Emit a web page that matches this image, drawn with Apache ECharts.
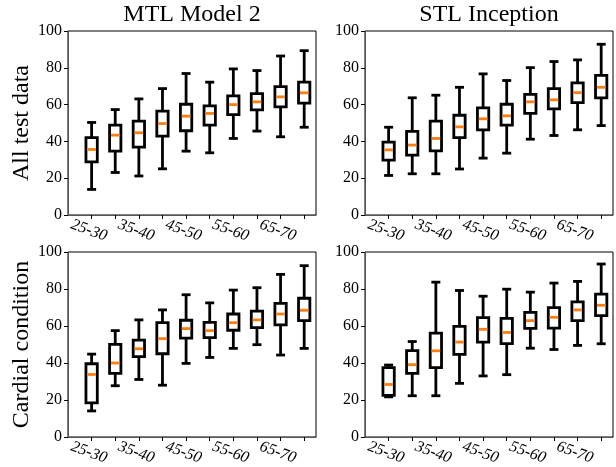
<!DOCTYPE html>
<html>
<head>
<meta charset="utf-8">
<script src="https://cdn.jsdelivr.net/npm/echarts@6/dist/echarts.min.js"></script>
<style>
html,body{margin:0;padding:0;background:#fff;}
#chart{width:616px;height:467px;}
</style>
</head>
<body>
<div id="chart"></div>
<script>
// Age groups (x categories)
const ageGroups = ['25-30','30-35','35-40','40-45','45-50','50-55','55-60','60-65','65-70','70-75'];
const panelTitles = ['MTL Model 2', 'STL Inception'];
const rowNames = ['All test data', 'Cardial condition'];
const yTicks = [0, 20, 40, 60, 80, 100];

// Each entry: [min (lower whisker), Q1, median, Q3, max (upper whisker)]
const mtlAll = [
  [13.9, 28.9, 35.6, 42.0, 50.3],
  [23.1, 34.7, 43.4, 48.8, 57.3],
  [21.2, 36.9, 44.7, 51.0, 63.1],
  [25.1, 42.9, 49.7, 56.4, 68.7],
  [34.7, 45.8, 53.7, 60.2, 76.9],
  [33.8, 48.8, 55.2, 59.3, 72.2],
  [41.6, 54.6, 60.0, 64.7, 79.4],
  [45.6, 57.1, 61.5, 66.0, 78.5],
  [42.5, 58.8, 64.2, 69.8, 86.4],
  [47.7, 60.8, 66.4, 72.2, 89.3]
];
const stlAll = [
  [21.5, 29.8, 35.4, 39.6, 47.7],
  [22.4, 32.5, 38.0, 45.4, 63.7],
  [22.4, 34.9, 41.6, 51.0, 65.1],
  [25.0, 42.1, 47.9, 54.2, 69.4],
  [30.9, 46.3, 52.3, 58.2, 76.7],
  [33.6, 48.8, 53.9, 60.2, 73.1],
  [41.2, 55.2, 61.5, 65.6, 80.1],
  [43.2, 57.7, 62.6, 68.7, 83.4],
  [46.3, 61.1, 66.5, 71.8, 84.3],
  [48.6, 63.7, 69.4, 75.9, 92.8]
];
const mtlCard = [
  [14.1, 18.4, 33.8, 39.6, 44.8],
  [27.7, 34.4, 40.0, 50.1, 57.5],
  [31.1, 43.4, 47.7, 52.4, 63.3],
  [28.0, 45.0, 53.2, 61.8, 68.7],
  [39.8, 53.5, 58.6, 63.1, 76.9],
  [43.0, 53.7, 57.5, 62.0, 72.5],
  [47.9, 57.7, 61.8, 66.5, 79.4],
  [49.9, 59.1, 63.3, 68.0, 80.7],
  [44.3, 60.6, 66.5, 72.2, 87.9],
  [47.9, 62.9, 68.5, 75.0, 92.6]
];
const stlCard = [
  [21.7, 22.5, 28.4, 37.5, 38.9],
  [22.3, 34.4, 39.1, 46.7, 51.6],
  [22.3, 37.5, 46.6, 56.2, 83.7],
  [29.0, 44.7, 51.3, 59.8, 79.2],
  [33.0, 51.3, 58.2, 64.5, 76.1],
  [33.7, 50.5, 56.5, 64.1, 79.9],
  [48.0, 58.7, 62.9, 67.4, 78.3],
  [47.3, 58.9, 64.7, 69.9, 83.2],
  [49.5, 62.9, 68.7, 73.0, 84.1],
  [50.4, 65.6, 71.2, 77.2, 93.5]
];

const panels = [mtlAll, stlAll, mtlCard, stlCard];
const FONT = "'Liberation Serif', 'Times New Roman', serif";
const gridDefs = [
  {left: 68, top: 31, width: 248, height: 184},
  {left: 365, top: 31, width: 248, height: 184},
  {left: 68, top: 252, width: 248, height: 185},
  {left: 365, top: 252, width: 248, height: 185}
];

function renderBox(params, api) {
  const x = api.value(0);
  const lo = api.coord([x, api.value(1)]);
  const q1 = api.coord([x, api.value(2)]);
  const md = api.coord([x, api.value(3)]);
  const q3 = api.coord([x, api.value(4)]);
  const hi = api.coord([x, api.value(5)]);
  const unit = api.size([1, 0])[0];
  const hw = unit * 0.24;
  const cw = unit * 0.19;
  const cx = lo[0];
  const lw = 2.8;
  const black = {stroke: '#000', lineWidth: lw, fill: null};
  return {
    type: 'group',
    children: [
      {type: 'line', shape: {x1: cx, y1: lo[1], x2: cx, y2: q1[1]}, style: black},
      {type: 'line', shape: {x1: cx, y1: q3[1], x2: cx, y2: hi[1]}, style: black},
      {type: 'line', shape: {x1: cx - cw, y1: lo[1], x2: cx + cw, y2: lo[1]}, style: black},
      {type: 'line', shape: {x1: cx - cw, y1: hi[1], x2: cx + cw, y2: hi[1]}, style: black},
      {type: 'rect', shape: {x: cx - hw, y: q3[1], width: 2 * hw, height: q1[1] - q3[1]}, style: {stroke: '#000', lineWidth: lw, fill: 'none'}},
      {type: 'line', shape: {x1: cx - hw + 1.4, y1: md[1], x2: cx + hw - 1.4, y2: md[1]}, style: {stroke: '#ff7f0e', lineWidth: 2.8}}
    ]
  };
}

const option = {
  backgroundColor: '#fff',
  animation: false,
  title: panelTitles.map((t, i) => ({
    text: t,
    left: gridDefs[i].left + gridDefs[i].width / 2,
    textAlign: 'center',
    top: 3,
    padding: 0,
    textStyle: {fontFamily: FONT, fontSize: 24, fontWeight: 'normal', color: '#000'}
  })),
  grid: gridDefs.map(g => Object.assign({
    show: true, borderColor: '#000', borderWidth: 1, backgroundColor: 'transparent',
    containLabel: false, outerBoundsMode: 'none'
  }, g)),
  xAxis: gridDefs.map((g, i) => ({
    type: 'value',
    gridIndex: i,
    min: 0,
    max: 10.5,
    interval: 1,
    splitLine: {show: false},
    axisLine: {show: true, lineStyle: {color: '#555', width: 1}},
    axisTick: {show: true, inside: false, length: 4, lineStyle: {color: '#000', width: 1},
      customValues: ageGroups.map((_, k) => k + 1)},
    axisLabel: {
      show: true,
      customValues: ageGroups.map((_, k) => k + 1).filter(v => v % 2 === 1),
      formatter: v => (v >= 1 && v <= ageGroups.length && v % 2 === 1) ? ageGroups[v - 1] : '',
      rotate: -20,
      align: 'center',
      verticalAlign: 'top',
      margin: 8,
      fontFamily: FONT,
      fontStyle: 'italic',
      fontSize: 16,
      color: '#000'
    }
  })),
  yAxis: gridDefs.map((g, i) => ({
    type: 'value',
    gridIndex: i,
    min: 0,
    max: 100,
    interval: 20,
    splitLine: {show: false},
    axisLine: {show: true, lineStyle: {color: '#555', width: 1}},
    axisTick: {show: true, inside: false, length: 4, lineStyle: {color: '#000', width: 1}},
    axisLabel: {
      show: true,
      margin: 6,
      fontFamily: FONT,
      fontSize: 16,
      color: '#000',
      formatter: v => yTicks.indexOf(v) >= 0 ? String(v) : ''
    },
    name: (i % 2 === 0) ? rowNames[i / 2] : '',
    nameLocation: 'middle',
    nameRotate: 90,
    nameGap: 29,
    nameTextStyle: {fontFamily: FONT, fontSize: 24, color: '#000'}
  })),
  series: panels.map((arr, i) => ({
    type: 'custom',
    xAxisIndex: i,
    yAxisIndex: i,
    renderItem: renderBox,
    encode: {x: 0, y: [1, 2, 3, 4, 5]},
    data: arr.map((d, k) => [k + 1].concat(d))
  }))
};

const chart = echarts.init(document.getElementById('chart'), null, {renderer: 'canvas'});
chart.setOption(option);
</script>
</body>
</html>
